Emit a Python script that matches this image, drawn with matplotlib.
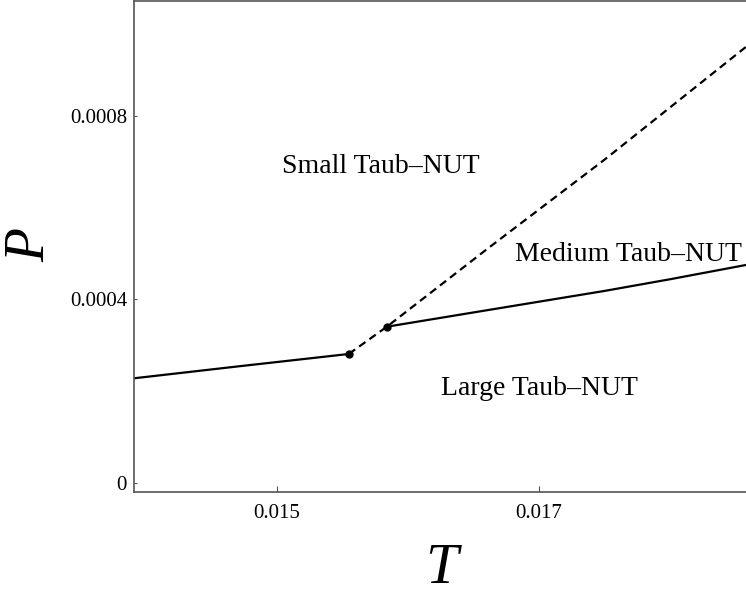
import matplotlib.pyplot as plt

# phase boundaries
T_low = [0.01380, 0.01472, 0.01555]
P_low = [0.0002242, 0.0002543, 0.0002809]

T_mid = [0.01584, 0.0165, 0.0170, 0.0175, 0.0180, 0.0186]
P_mid = [0.0003404, 0.0003715, 0.0003950, 0.0004185, 0.0004440, 0.0004763]

T_dash = [0.01555, 0.01584, 0.0166, 0.0175, 0.0186]
P_dash = [0.000281, 0.0003404, 0.000509, 0.000705, 0.000956]

T_pts = [0.01555, 0.01584]
P_pts = [0.000281, 0.0003404]

x_ticks = [0.015, 0.017]
x_labels = ['0.015', '0.017']
y_ticks = [0, 0.0004, 0.0008]
y_labels = ['0', '0.0004', '0.0008']

plt.rcParams['font.family'] = ['Liberation Serif', 'DejaVu Serif']

fig = plt.figure(figsize=(7.46, 5.94), dpi=100)
ax = fig.add_axes([0.1796, 0.1722, 0.8204, 0.8261])

ax.plot(T_low, P_low, color='black', lw=1.6)
ax.plot(T_mid, P_mid, color='black', lw=1.6)
ax.plot(T_dash, P_dash, color='black', lw=1.6, dashes=(3.5, 2.2))
ax.plot(T_pts, P_pts, 'o', color='black', ms=5)

ax.set_xlim(0.013912, 0.018578)
ax.set_ylim(-0.0000196, 0.001051)

ax.set_xticks(x_ticks)
ax.set_xticklabels(x_labels)
ax.set_yticks(y_ticks)
ax.set_yticklabels(y_labels)
ax.tick_params(axis='x', direction='in', length=4.5, width=0.8, pad=9,
               labelsize=15, color='#555555')
ax.tick_params(axis='y', direction='in', length=2, width=0.8, pad=5,
               labelsize=15, color='#555555')

for side in ['left', 'bottom', 'top']:
    ax.spines[side].set_color('#555555')
    ax.spines[side].set_linewidth(1.2)
ax.spines['right'].set_visible(False)

ax.text(0.015795, 0.000691, 'Small Taub\u2013NUT', fontsize=20,
        ha='center', va='center')
ax.text(0.016817, 0.000497, 'Medium Taub\u2013NUT', fontsize=20,
        ha='left', va='center')
ax.text(0.017004, 0.0002045, 'Large Taub\u2013NUT', fontsize=20,
        ha='center', va='center')

ax.set_xlabel('T', fontsize=42, fontstyle='italic')
ax.xaxis.set_label_coords(0.503, -0.157)
ax.xaxis.label.set_va('center')
ax.set_ylabel('P', fontsize=40, fontstyle='italic')
ax.yaxis.set_label_coords(-0.170, 0.503)
ax.yaxis.label.set_va('center')

fig.savefig('out.png', dpi=100)
